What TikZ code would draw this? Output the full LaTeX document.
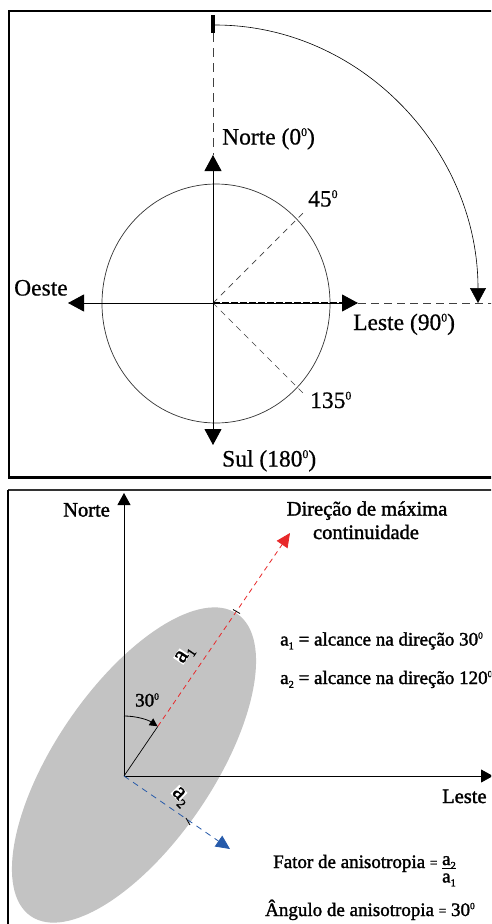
\documentclass[tikz,border=0pt]{standalone}
\usepackage{fontspec}
\setmainfont{Liberation Serif}
\newfontfamily\heavyserif{Liberation Serif}[FakeBold=1.6]
\newfontfamily\midserif{Liberation Serif}[FakeBold=0.6]
\usetikzlibrary{arrows.meta}
\definecolor{ellgray}{RGB}{195,195,195}
\definecolor{myred}{RGB}{232,40,42}
\definecolor{myblue}{RGB}{38,90,170}
\newcommand\supz{\raisebox{0.36em}{\scalebox{0.5}{0}}}
\newcommand\subn[1]{\raisebox{-0.2em}{\scalebox{0.55}{#1}}}
\newcommand\smeq{\raisebox{0.05em}{\scalebox{0.7}{=}}}
\newcommand\whitea{{\fboxsep=0.4pt\colorbox{white}{a}}}
\begin{document}
\begin{tikzpicture}[x=1pt,y=-1pt,
  lbltop/.style={font=\midserif\fontsize{23.5}{26}\selectfont, inner sep=0pt, anchor=base west},
  lblbot/.style={font=\heavyserif\fontsize{20.5}{23}\selectfont, inner sep=0pt},
  lbldef/.style={font=\heavyserif\fontsize{19}{22}\selectfont, inner sep=0pt, anchor=base west},
  bigaxis/.style={line width=0.9pt, -{Triangle[width=17pt,length=16pt]}},
  smallaxis/.style={line width=0.8pt, -{Triangle[width=13pt,length=12pt]}},
  thindash/.style={line width=0.7pt, black!75, dash pattern=on 6pt off 5pt},
  reddash/.style={myred, line width=0.8pt, dash pattern=on 5pt off 4pt, -{Triangle[width=13pt,length=14pt]}},
  bluedash/.style={myblue, line width=0.8pt, dash pattern=on 6pt off 5pt, -{Triangle[width=13pt,length=14pt]}}
]
\useasboundingbox (0,0) rectangle (491,924);
\clip (0,0) rectangle (491,924);
\fill[white] (0,0) rectangle (491,924);

% ---------------- top panel ----------------
\draw[line width=2.5pt] (9,11) rectangle (520,477.5);
\coordinate (C) at (213,303);
\coordinate (Cc) at (216,303.5);
\coordinate (Ntip) at (213,155);
\coordinate (Stip) at (213,445);
\coordinate (Wtip) at (68,303);
\coordinate (Etip) at (358,303);
\coordinate (Ebase) at (343,303);
\coordinate (Eend) at (495,303);
\coordinate (tickTop) at (213,15);
\coordinate (tickBot) at (213,33);
\coordinate (arcStart) at (215,25);
\coordinate (d45) at (305,211);
\coordinate (d135) at (305,395);

\draw[line width=0.7pt, black!80] (Cc) ellipse [x radius=114pt, y radius=119.5pt];
\draw[line width=4pt] (tickTop) -- (tickBot);
\draw[thindash, dash pattern=on 9pt off 6pt] (tickBot) -- (Ntip);
\draw[line width=0.6pt, -{Triangle[width=16pt,length=15pt]}] (arcStart) arc[start angle=90, end angle=0, x radius=263pt, y radius=278pt];
\draw[thindash, dash pattern=on 8pt off 5pt] (Etip) -- (Eend);
\draw[thindash] (C) -- (d45);
\draw[thindash] (C) -- (d135);
\draw[bigaxis] (C) -- (Ntip);
\draw[bigaxis] (C) -- (Stip);
\draw[bigaxis] (C) -- (Wtip);
\draw[bigaxis] (C) -- (Etip);
\draw[line width=1.8pt, dash pattern=on 7pt off 2pt] (C) -- (Ebase);

\node[lbltop] (norteT) at (222,144.5) {Norte (0\supz)};
\node[lbltop] (l45) at (308,206.5) {45\supz};
\node[lbltop] (oeste) at (14,295.5) {Oeste};
\node[lbltop] (leste) at (353,330) {Leste (90\supz)};
\node[lbltop] (l135) at (310,408) {135\supz};
\node[lbltop] (sul) at (222,466.5) {Sul (180\supz)};

% ---------------- bottom panel ----------------
\fill[ellgray, rotate around={55.7:(134,765)}] (134,765) ellipse [x radius=183pt, y radius=79pt];
\draw[line width=1.3pt, black!80] (8,490) -- (500,490);
\draw[line width=2pt] (8,490) -- (8,930);

\coordinate (O) at (124,776);
\coordinate (Ntop) at (124,493);
\coordinate (Eright) at (493,776);
\coordinate (R1) at (157.8,726.4);
\coordinate (Rtip) at (290,533);
\coordinate (Btip) at (230,849);
\coordinate (arcN) at (124,716);

\draw[smallaxis] (O) -- (Ntop);
\draw[smallaxis] (O) -- (Eright);
\draw[line width=0.7pt] (O) -- (R1);
\draw[reddash] (R1) -- (Rtip);
\draw[bluedash] (O) -- (Btip);
\draw[line width=0.8pt, -{Triangle[width=8pt,length=8pt]}] (arcN) arc[start angle=90, end angle=56, radius=60pt];
\draw[line width=0.8pt] (233,609.5) -- (240,613.5);
\draw[line width=0.8pt] (186,818) -- (190,825);

\node[lblbot, anchor=base west] (norteB) at (63,516.5) {Norte};
\node[lblbot, anchor=base] (dir1) at (367,515.5) {Direção de máxima};
\node[lblbot, anchor=base] (dir2) at (366,539) {continuidade};
\node[lbldef] (def1) at (280,645.5) {a\subn{1} = alcance na direção 30\supz};
\node[lbldef] (def2) at (280,684) {a\subn{2} = alcance na direção 120\supz};
\node[lbldef] (ang30) at (135,706.5) {30\supz};
\node[lblbot, anchor=base west] (lesteB) at (442,803) {Leste};
\node[font=\heavyserif\fontsize{24}{24}\selectfont, inner sep=0pt, rotate=56] (a1lbl) at (185,655) {\whitea\subn{1}};
\node[font=\heavyserif\fontsize{24}{24}\selectfont, inner sep=0pt, rotate=-45] (a2lbl) at (180,797) {\whitea\subn{2}};
\node[lbldef] (fator) at (273,868) {Fator de anisotropia \smeq\ \raisebox{-0.33em}{\fontsize{19}{19}\selectfont\begin{tabular}{@{}c@{}}a\subn{2}\\[-3pt]\hline\noalign{\vskip1pt}a\subn{1}\end{tabular}}};
\node[lbldef] (angulo) at (265,916) {Ângulo de anisotropia \smeq\ 30\supz};
\end{tikzpicture}
\end{document}
